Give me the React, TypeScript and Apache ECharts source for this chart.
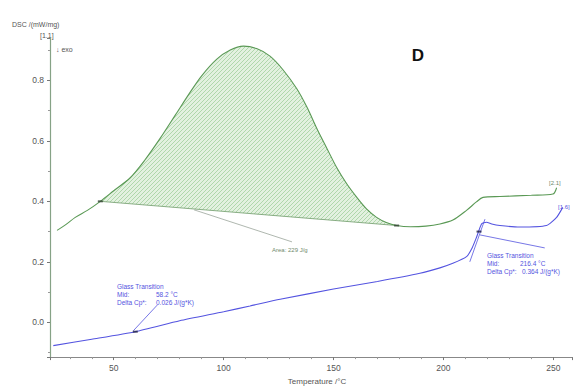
import React, { useEffect, useRef } from 'react';
import * as echarts from 'echarts';

// Temperature (°C), DSC (mW/mg)
const greenCurve: [number, number][] = [
  [24.2, 0.304], [28, 0.322], [32.5, 0.347], [38, 0.37], [43.9, 0.4], [50, 0.435], [57.5, 0.478],
  [64, 0.535], [71.1, 0.608], [78, 0.685], [84.8, 0.761], [90, 0.815], [96.9, 0.87], [103, 0.9],
  [109, 0.913], [115, 0.905], [121.1, 0.88], [127, 0.835], [133.3, 0.772], [138, 0.71], [142.4, 0.641],
  [147, 0.575], [151.5, 0.511], [156, 0.458], [160.6, 0.413], [165, 0.375], [169.6, 0.347], [174, 0.33],
  [178.7, 0.32], [185, 0.316], [192, 0.318], [198.4, 0.325], [204.3, 0.338], [210.5, 0.37], [215, 0.398],
  [218, 0.413], [225.7, 0.416], [240, 0.42], [249.8, 0.424], [251.5, 0.445],
];
const blueCurve: [number, number][] = [
  [22.5, -0.077], [40, -0.056], [59.8, -0.031], [80, 0.005], [100, 0.035], [112, 0.054], [125.7, 0.076],
  [150, 0.11], [170, 0.135], [189.3, 0.162], [198.4, 0.18], [204.3, 0.195], [210.5, 0.217], [213, 0.245],
  [215.1, 0.282], [217.4, 0.326], [219.6, 0.331], [222, 0.325], [225.7, 0.32], [234.8, 0.315],
  [246.9, 0.32], [251.5, 0.347], [254.3, 0.38],
];
const peakBaseline: [number, number][] = [[43.9, 0.4], [178.7, 0.32]];
const greenMarkers: [number, number][] = [[43.9, 0.4], [178.7, 0.32]];
const blueMarkers: [number, number][] = [[59.8, -0.031], [216.2, 0.3]];
const areaConnector: [number, number][] = [[86.5, 0.372], [131.1, 0.266]];
const leftGtConnector: [number, number][] = [[58.9, -0.028], [69.8, 0.057]];
const rightGtConnector: [number, number][] = [[216.6, 0.289], [246.1, 0.246]];
const rightTangent: [number, number][] = [[212, 0.2], [218.9, 0.341]];

const GREEN = '#5a9955';
const BLUE = '#5454e0';

function makePattern() {
  const s = 4;
  const c = document.createElement('canvas');
  c.width = s;
  c.height = s;
  const ctx = c.getContext('2d')!;
  ctx.fillStyle = '#e3f1e0';
  ctx.fillRect(0, 0, s, s);
  ctx.strokeStyle = '#a3d09e';
  ctx.lineWidth = 0.8;
  ctx.beginPath();
  ctx.moveTo(-1, s + 1);
  ctx.lineTo(s + 1, -1);
  ctx.moveTo(-1, 1);
  ctx.lineTo(1, -1);
  ctx.moveTo(s - 1, s + 1);
  ctx.lineTo(s + 1, s - 1);
  ctx.stroke();
  return c;
}

export default function App() {
  const ref = useRef<HTMLDivElement>(null);
  useEffect(() => {
    if (!ref.current) return;
    const chart = echarts.init(ref.current, null, { renderer: 'svg' });
    const areaPts = greenCurve.filter((p) => p[0] >= peakBaseline[0][0] && p[0] <= peakBaseline[1][0]);
    const pattern = { image: makePattern(), repeat: 'repeat' };
    const txt = (x: number, y: number, text: string, color: string, size = 6.5, extra: any = {}) => ({
      type: 'text', x, y,
      style: { text, fill: color, font: `${size}px "Liberation Sans", Arial, sans-serif`, verticalAlign: 'middle', ...extra },
    });
    const seg = (pts: [number, number][], color: string) => ({
      type: 'line', data: pts, symbol: 'none', silent: true,
      lineStyle: { color, width: 0.8 }, z: 3,
    });
    chart.setOption({
      animation: false,
      grid: { left: 50, right: 3, top: 38, bottom: 28 },
      xAxis: {
        type: 'value', min: 21, max: 258.5, splitNumber: 5,
        name: 'Temperature /°C', nameLocation: 'middle', nameGap: 19,
        nameTextStyle: { color: '#555', fontSize: 8, fontFamily: 'Liberation Sans', padding: [0, 0, 0, 12] },
        axisLine: { onZero: false, lineStyle: { color: '#888', width: 1 } },
        axisTick: { length: 3, lineStyle: { color: '#777' } },
        minorTick: { show: true, splitNumber: 5, length: 2, lineStyle: { color: '#999' } },
        axisLabel: { color: '#555', fontSize: 8.5, fontFamily: 'Liberation Sans', margin: 6, showMinLabel: false, showMaxLabel: false },
        splitLine: { show: false },
      },
      yAxis: {
        type: 'value', min: -0.115, max: 0.94, splitNumber: 5,
        axisLine: { show: true, onZero: false, lineStyle: { color: '#86a286', width: 1.2 } },
        axisTick: { length: 3, lineStyle: { color: '#777' } },
        minorTick: { show: true, splitNumber: 2, length: 2, lineStyle: { color: '#999' } },
        axisLabel: {
          color: '#555', fontSize: 8.5, fontFamily: 'Liberation Sans', margin: 6,
          showMinLabel: false, showMaxLabel: false,
          formatter: (v: number) => v.toFixed(1),
        },
        splitLine: { show: false },
      },
      series: [
        {
          type: 'custom', silent: true, z: 1,
          data: [[100, 0.5]],
          renderItem: (_p: any, api: any) => ({
            type: 'polygon',
            shape: { points: areaPts.map((p) => api.coord(p)) },
            style: { fill: pattern, stroke: 'none' },
          }),
        },
        {
          type: 'line', data: greenCurve, symbol: 'none', smooth: 0.3, silent: true,
          lineStyle: { color: GREEN, width: 1.1 }, z: 4,
        },
        seg(peakBaseline, '#6f9a6a'),
        seg(areaConnector, '#9aa59a'),
        {
          type: 'line', data: blueCurve, symbol: 'none', smooth: 0.2, silent: true,
          lineStyle: { color: BLUE, width: 1.1 }, z: 4,
        },
        seg(leftGtConnector, BLUE),
        seg(rightGtConnector, BLUE),
        seg(rightTangent, BLUE),
        {
          type: 'scatter', data: greenMarkers, symbol: 'rect', symbolSize: [5, 2],
          itemStyle: { color: '#334433' }, z: 5, silent: true,
        },
        {
          type: 'scatter', data: blueMarkers, symbol: 'rect', symbolSize: [5, 2],
          itemStyle: { color: '#222244' }, z: 5, silent: true,
        },
      ],
      graphic: [
        txt(12, 24, 'DSC /(mW/mg)', '#555', 7),
        txt(40, 35, '[1.1]', '#555', 7),
        txt(56, 49, '↓ exo', '#555', 7),
        txt(418, 55, 'D', '#111', 17, { font: 'bold 17px "Liberation Sans", Arial, sans-serif', align: 'center' }),
        txt(272, 250, 'Area: 229 J/g', '#6f8a6d', 6),
        txt(549, 183, '[2.1]', '#6f8a6d', 6),
        txt(558, 207, '[1.6]', BLUE, 6),
        txt(117, 286, 'Glass Transition', BLUE),
        txt(117, 294, 'Mid:', BLUE),
        txt(156, 294, '58.2 °C', BLUE),
        txt(117, 302, 'Delta Cp*:', BLUE),
        txt(156, 302, '0.026 J/(g*K)', BLUE),
        txt(487, 255, 'Glass Transition', BLUE),
        txt(487, 263, 'Mid:', BLUE),
        txt(520, 263, '216.4 °C', BLUE),
        txt(487, 271, 'Delta Cp*:', BLUE),
        txt(522, 271, '0.364 J/(g*K)', BLUE),
      ],
    });
    return () => chart.dispose();
  }, []);
  return <div ref={ref} style={{ position: 'absolute', left: 0, top: 0, width: 575, height: 390, background: '#fff' }} />;
}
